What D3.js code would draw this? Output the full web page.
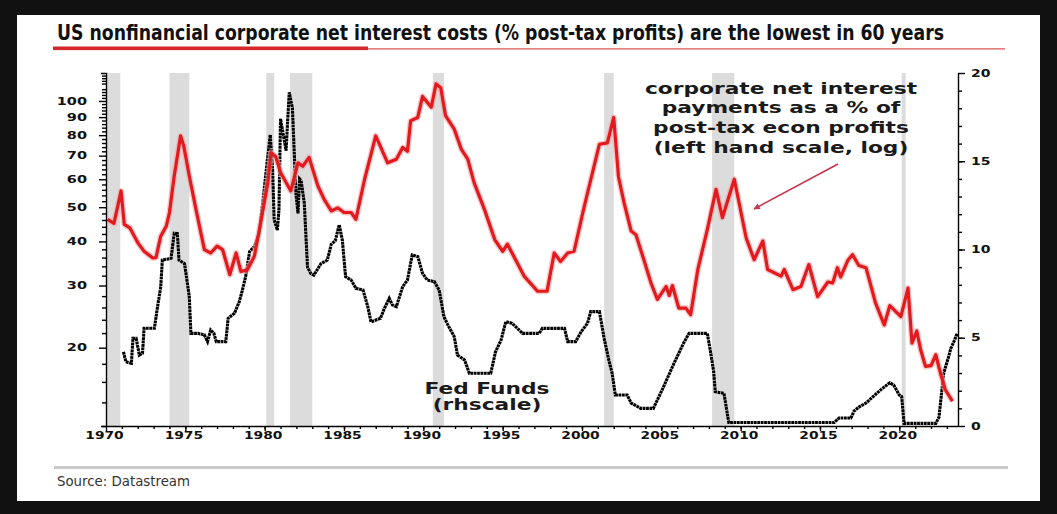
<!DOCTYPE html>
<html>
<head>
<meta charset="utf-8">
<script src="https://cdn.jsdelivr.net/npm/d3@7"></script>
<style>
  html, body { margin: 0; padding: 0; background: #111; }
  svg { display: block; }
  .axis path, .axis line { stroke: #000; stroke-width: 1.4px; }
  .axis text { font-family: "DejaVu Sans", sans-serif; font-weight: bold; font-size: 10px; fill: #111; }
  .note { font-family: "DejaVu Sans", sans-serif; font-weight: bold; font-size: 15px; fill: #1a1a1a; }
</style>
</head>
<body>
<svg id="chart" width="1057" height="514"></svg>
<script>
// NBER recessions as drawn in the chart (fractional years)
const recessionStart = [1970.0, 1974.0, 1980.1, 1981.6, 1990.6, 2001.4, 2008.2, 2020.15];
const recessionEnd   = [1970.9, 1975.25, 1980.6, 1983.0, 1991.3, 2002.0, 2009.6, 2020.4];

const yearTicks  = [1970, 1975, 1980, 1985, 1990, 1995, 2000, 2005, 2010, 2015, 2020];
const leftTicks  = [20, 30, 40, 50, 60, 70, 80, 90, 100];
const rightTicks = [0, 5, 10, 15, 20];

// corporate net interest payments, % of post-tax econ profits (left, log)
const interestYears = [
  1970.1, 1970.5, 1970.95, 1971.15, 1971.5, 1972.0, 1972.4, 1972.95, 1973.15, 1973.45,
  1973.8, 1974.0, 1974.3, 1974.7, 1974.9, 1975.25, 1975.67, 1976.2, 1976.6, 1977.0,
  1977.35, 1977.8, 1978.2, 1978.5, 1978.9, 1979.35, 1979.75, 1980.2, 1980.4, 1980.7,
  1981.0, 1981.65, 1982.1, 1982.4, 1982.8, 1983.35, 1983.75, 1984.2, 1984.6, 1985.0,
  1985.45, 1985.75, 1986.3, 1987.0, 1987.75, 1988.3, 1988.7, 1989.0, 1989.2, 1989.65,
  1989.95, 1990.5, 1990.8, 1991.1, 1991.4, 1991.95, 1992.4, 1992.8, 1993.2, 1993.85,
  1994.5, 1995.0, 1995.3, 1995.7, 1996.35, 1997.2, 1997.8, 1998.25, 1998.65, 1999.1,
  1999.5, 2000.15, 2001.1, 2001.6, 2002.0, 2002.3, 2002.65, 2003.1, 2003.4, 2003.9,
  2004.35, 2004.75, 2005.3, 2005.5, 2005.7, 2006.1, 2006.55, 2006.85, 2007.3, 2007.9,
  2008.45, 2008.85, 2009.6, 2010.35, 2010.85, 2011.4, 2011.7, 2012.55, 2012.75, 2013.3,
  2013.8, 2014.3, 2014.85, 2015.5, 2015.8, 2016.1, 2016.3, 2016.75, 2017.05, 2017.45,
  2017.9, 2018.5, 2019.05, 2019.4, 2020.1, 2020.55, 2020.8, 2021.1, 2021.35, 2021.65,
  2022.0, 2022.3, 2022.6, 2022.9, 2023.35
];
const interestValues = [
  46.2, 45.0, 55.6, 44.7, 43.7, 39.7, 37.5, 35.9, 36.0, 41.4,
  44.2, 48.3, 61.3, 79.6, 74.6, 61.3, 49.3, 37.9, 37.1, 38.8,
  37.9, 32.2, 37.1, 32.9, 33.2, 36.3, 45.2, 58.7, 71.4, 69.5,
  62.7, 55.6, 66.8, 65.3, 69.2, 57.5, 52.6, 48.8, 49.8, 48.3,
  48.3, 46.2, 60.0, 79.6, 66.8, 68.4, 73.8, 72.0, 87.8, 89.8,
  103.0, 95.9, 111.7, 109.0, 90.8, 83.2, 72.9, 68.4, 58.7, 49.3,
  40.5, 37.5, 39.3, 36.3, 31.9, 28.9, 28.9, 37.1, 35.1, 37.1,
  37.5, 50.4, 75.4, 76.1, 89.8, 61.0, 51.5, 42.8, 41.8, 35.5,
  30.5, 27.4, 29.8, 28.1, 30.0, 25.9, 25.9, 24.8, 33.3, 43.2,
  56.2, 46.7, 60.0, 40.9, 35.5, 40.1, 33.3, 31.9, 33.3, 29.2,
  29.8, 34.4, 27.9, 30.7, 30.5, 33.7, 31.7, 35.3, 36.7, 34.2,
  33.7, 26.8, 23.2, 26.3, 24.5, 29.5, 20.6, 22.3, 19.7, 17.7,
  17.8, 19.1, 16.9, 15.2, 14.1
];

// Fed Funds rate, % (right hand scale)
const fedYears = [
  1971.1, 1971.25, 1971.6, 1971.7, 1971.9, 1972.1, 1972.3, 1972.4, 1973.05, 1973.25,
  1973.45, 1973.55, 1974.1, 1974.3, 1974.5, 1974.6, 1974.95, 1975.25, 1975.35, 1975.8,
  1976.2, 1976.4, 1976.6, 1976.8, 1976.95, 1977.55, 1977.7, 1978.1, 1978.4, 1978.6,
  1978.8, 1979.05, 1979.35, 1979.65, 1979.9, 1980.1, 1980.35, 1980.5, 1980.6, 1980.8,
  1980.9, 1981.0, 1981.35, 1981.45, 1981.55, 1981.75, 1981.97, 1982.1, 1982.2, 1982.3,
  1982.5, 1982.7, 1982.9, 1983.1, 1983.55, 1983.95, 1984.2, 1984.45, 1984.7, 1984.9,
  1985.1, 1985.45, 1985.75, 1986.2, 1986.5, 1986.7, 1987.3, 1987.55, 1987.85, 1988.05,
  1988.3, 1988.7, 1989.0, 1989.3, 1989.65, 1989.95, 1990.25, 1990.7, 1991.0, 1991.3,
  1991.6, 1991.95, 1992.15, 1992.6, 1992.9, 1994.25, 1994.55, 1994.9, 1995.2, 1995.6,
  1996.25, 1997.3, 1997.5, 1998.9, 1999.1, 1999.6, 1999.95, 2000.35, 2000.55, 2001.1,
  2001.4, 2001.7, 2001.9, 2002.1, 2002.85, 2003.1, 2003.7, 2004.5, 2005.05, 2005.8,
  2006.4, 2006.75, 2007.9, 2008.1, 2008.3, 2008.4, 2008.95, 2009.25, 2015.9, 2016.2,
  2016.95, 2017.15, 2017.5, 2017.9, 2018.45, 2018.95, 2019.4, 2019.65, 2020.0, 2020.15,
  2020.3, 2022.3, 2022.5, 2022.8, 2023.1, 2023.25, 2023.45, 2023.65
];
const fedValues = [
  4.2, 3.64, 3.55, 4.97, 4.97, 4.02, 4.12, 5.54, 5.54, 6.76,
  7.89, 9.4, 9.5, 10.92, 10.9, 9.4, 9.2, 7.33, 5.25, 5.25,
  5.16, 4.78, 5.44, 5.25, 4.78, 4.78, 6.1, 6.39, 7.04, 7.71,
  8.46, 9.88, 10.16, 10.9, 12.8, 14.5, 16.5, 14.5, 11.67, 11.1,
  12.24, 17.4, 15.6, 17.3, 18.9, 18.0, 13.2, 12.05, 14.0, 13.9,
  12.6, 9.0, 8.65, 8.55, 9.2, 9.4, 10.3, 10.5, 11.4, 10.5,
  8.46, 8.27, 7.8, 7.7, 6.76, 5.9, 6.1, 6.67, 7.23, 6.86,
  6.76, 7.89, 8.27, 9.69, 9.6, 8.65, 8.27, 8.18, 7.7, 6.19,
  5.63, 5.06, 4.02, 3.74, 2.99, 2.99, 4.2, 4.87, 5.91, 5.82,
  5.25, 5.25, 5.53, 5.53, 4.78, 4.78, 5.34, 5.82, 6.48, 6.48,
  4.95, 3.7, 2.99, 1.76, 1.76, 1.3, 1.0, 1.0, 2.04, 3.55,
  4.69, 5.25, 5.25, 4.21, 3.08, 1.94, 1.85, 0.2, 0.2, 0.45,
  0.45, 0.85, 1.1, 1.3, 1.75, 2.14, 2.45, 2.32, 1.76, 1.66,
  0.15, 0.15, 0.5, 3.0, 3.9, 4.4, 4.8, 5.25
];

const titleText = 'US nonfinancial corporate net interest costs (% post-tax profits) are the lowest in 60 years';
const noteLines = ['corporate net interest', 'payments as a % of', 'post-tax econ profits', '(left hand scale, log)'];
const fedLabelLines = ['Fed Funds', '(rhscale)'];
const sourceText = 'Source: Datastream';

function widen(sel, sx) {
    // the original chart is a horizontally stretched picture: stretch text the same way
    sel.each(function() {
        const t = d3.select(this);
        const x0 = +t.attr('x') || 0;
        t.attr('x', x0 / sx).attr('transform', `scale(${sx},1)`);
    });
}

function drawChart() {
    const svg = d3.select('#chart');
    const plot = {left: 106, right: 958, top: 73, bottom: 426};

    // white card
    svg.append('rect')
        .attr('x', 17).attr('y', 15)
        .attr('width', 1023).attr('height', 486)
        .attr('fill', '#fff');

    // title + red underline
    svg.append('text')
        .attr('x', 57).attr('y', 39.5)
        .attr('textLength', 887)
        .attr('lengthAdjust', 'spacingAndGlyphs')
        .style('font-family', '"Liberation Sans Narrow", "DejaVu Sans Condensed", sans-serif')
        .style('font-weight', 'bold')
        .style('font-size', '21px')
        .style('fill', '#111')
        .text(titleText);
    svg.append('line')
        .attr('x1', 360).attr('x2', 1005).attr('y1', 48.8).attr('y2', 48.8)
        .attr('stroke', '#d9534f').attr('stroke-width', 1.2);
    svg.append('rect')
        .attr('x', 53).attr('y', 46.5)
        .attr('width', 315).attr('height', 3.6)
        .attr('fill', '#d6282b');

    // scales
    const x = d3.scaleLinear().domain([1970, 2023.7]).range([plot.left, plot.right]);
    const yLeft = d3.scaleLog().domain([12, 120]).range([plot.bottom, plot.top]);
    const yRight = d3.scaleLinear().domain([0, 20]).range([plot.bottom, plot.top]);

    // recession shading
    svg.append('g').selectAll('rect')
        .data(recessionStart).enter()
        .append('rect')
        .attr('x', (d) => x(d))
        .attr('y', plot.top)
        .attr('width', (d, i) => x(recessionEnd[i]) - x(d))
        .attr('height', plot.bottom - plot.top)
        .attr('fill', '#dcdcdc');

    // Fed Funds (rhs)
    const fedLine = d3.line()
        .x((i) => x(fedYears[i]))
        .y((i) => yRight(fedValues[i]));
    svg.append('path')
        .datum(d3.range(fedYears.length))
        .attr('d', fedLine)
        .attr('fill', 'none')
        .attr('stroke', '#000')
        .attr('stroke-width', 3.1)
        .attr('stroke-dasharray', '2.8,0.6');

    // interest costs (lhs, log)
    const redLine = d3.line()
        .x((i) => x(interestYears[i]))
        .y((i) => yLeft(interestValues[i]));
    const idx = d3.range(interestYears.length);
    svg.append('path')
        .datum(idx)
        .attr('d', redLine)
        .attr('fill', 'none')
        .attr('stroke', '#f4a5a5')
        .attr('stroke-width', 6)
        .attr('stroke-linejoin', 'round')
        .attr('opacity', 0.6);
    svg.append('path')
        .datum(idx)
        .attr('d', redLine)
        .attr('fill', 'none')
        .attr('stroke', '#e3191e')
        .attr('stroke-width', 3.2)
        .attr('stroke-linejoin', 'round');

    // axes: minor ticks first, then major with labels
    svg.append('g')
        .attr('class', 'axis')
        .attr('transform', `translate(${plot.left},0)`)
        .call(d3.axisLeft(yLeft).tickValues(d3.range(12, 121, 2).filter((v) => v % 10 !== 0)).tickSize(4).tickFormat(''))
        .select('.domain').remove();
    const gl = svg.append('g')
        .attr('class', 'axis')
        .attr('transform', `translate(${plot.left},0)`)
        .call(d3.axisLeft(yLeft).tickValues(leftTicks).tickSize(7).tickSizeOuter(5).tickFormat(d3.format('d')));
    gl.selectAll('text').attr('x', -19);
    widen(gl.selectAll('text'), 1.45);

    svg.append('g')
        .attr('class', 'axis')
        .attr('transform', `translate(${plot.right},0)`)
        .call(d3.axisRight(yRight).tickValues(d3.range(1, 20)).tickSize(4).tickFormat(''))
        .select('.domain').remove();
    const gr = svg.append('g')
        .attr('class', 'axis')
        .attr('transform', `translate(${plot.right},0)`)
        .call(d3.axisRight(yRight).tickValues(rightTicks).tickSize(7).tickSizeOuter(0).tickFormat(d3.format('d')));
    gr.selectAll('text').attr('x', 13);
    widen(gr.selectAll('text'), 1.4);

    svg.append('g')
        .attr('class', 'axis')
        .attr('transform', `translate(0,${plot.bottom})`)
        .call(d3.axisBottom(x).tickValues(d3.range(1971, 2024)).tickSize(3).tickFormat(''))
        .select('.domain').remove();
    const gb = svg.append('g')
        .attr('class', 'axis')
        .attr('transform', `translate(0,${plot.bottom})`)
        .call(d3.axisBottom(x).tickValues(yearTicks).tickSize(5).tickSizeOuter(0).tickFormat(d3.format('d')));
    gb.selectAll('text').attr('y', 6).attr('x', -2);
    widen(gb.selectAll('text'), 1.38);

    // annotation for the red line
    const note = svg.append('g').attr('transform', 'translate(781,93.5)');
    note.selectAll('text')
        .data(noteLines).enter()
        .append('text')
        .attr('class', 'note')
        .attr('y', (d, i) => i * 20)
        .attr('text-anchor', 'middle')
        .text((d) => d);
    widen(note.selectAll('text'), 1.45);

    svg.append('defs').append('marker')
        .attr('id', 'head')
        .attr('viewBox', '0 0 10 10')
        .attr('refX', 9).attr('refY', 5)
        .attr('markerWidth', 4.5).attr('markerHeight', 4)
        .attr('orient', 'auto')
        .append('path')
        .attr('d', 'M0,0 L10,5 L0,10 Z')
        .attr('fill', '#c8364e');
    svg.append('line')
        .attr('x1', 838).attr('y1', 164)
        .attr('x2', 754).attr('y2', 209)
        .attr('stroke', '#c8364e')
        .attr('stroke-width', 1.6)
        .attr('marker-end', 'url(#head)');

    // Fed Funds label
    const fl = svg.append('g').attr('transform', 'translate(487,393.5)');
    fl.selectAll('text')
        .data(fedLabelLines).enter()
        .append('text')
        .attr('class', 'note')
        .attr('y', (d, i) => i * 17)
        .attr('text-anchor', 'middle')
        .text((d) => d);
    widen(fl.selectAll('text'), 1.45);

    // source footer
    svg.append('line')
        .attr('x1', 54).attr('x2', 1008).attr('y1', 467.5).attr('y2', 467.5)
        .attr('stroke', '#cacaca').attr('stroke-width', 3);
    svg.append('text')
        .attr('x', 57).attr('y', 485.5)
        .attr('textLength', 133)
        .attr('lengthAdjust', 'spacingAndGlyphs')
        .style('font-family', '"Liberation Sans Narrow", "DejaVu Sans Condensed", sans-serif')
        .style('font-size', '14px')
        .style('fill', '#333')
        .text(sourceText);
}

document.addEventListener('DOMContentLoaded', function() {
    drawChart();
});
</script>
</body>
</html>
